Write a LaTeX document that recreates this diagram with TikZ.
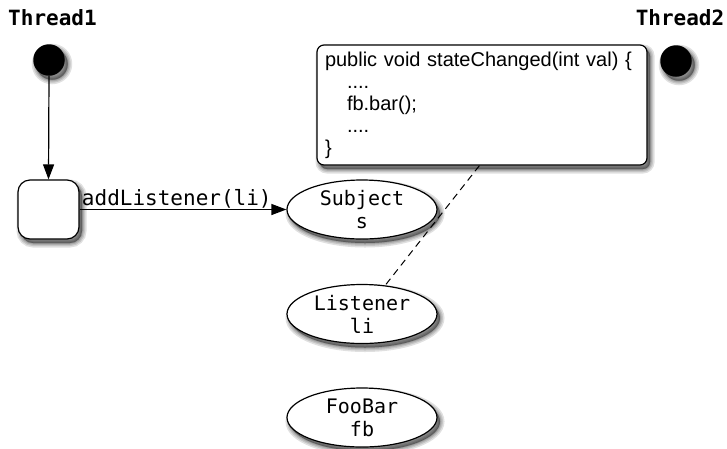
\documentclass[tikz,border=0pt]{standalone}
\usepackage{fontspec}
\setmainfont{Liberation Sans}
\newfontfamily\monofont{DejaVu Sans Mono}
\usetikzlibrary{arrows.meta,shapes.geometric,shadows,backgrounds,calc}

\tikzset{
  % soft drop shadow built from stacked translucent copies
  shadowlayer/.style={general shadow={shadow xshift=3pt, shadow yshift=-4pt,
      fill=black, draw=black, line width=#1, opacity=0.12}},
  softshadow/.style={shadowlayer=9pt, shadowlayer=6pt, shadowlayer=3.5pt,
      shadowlayer=1.5pt},
  startdot/.style={circle, fill=black, minimum size=31.5pt, inner sep=0pt, softshadow},
  threadname/.style={font=\monofont\bfseries\fontsize{21}{24}\selectfont, inner sep=0pt},
  statebox/.style={draw, line width=1.2pt, rounded corners=12pt, fill=white,
      minimum width=61pt, minimum height=59pt, softshadow},
  objnode/.style={ellipse, draw, line width=1.2pt, fill=white, inner sep=0pt,
      minimum width=150pt, minimum height=59pt, align=center,
      font=\monofont\fontsize{20}{23}\selectfont, softshadow},
  notebox/.style={draw, line width=1.2pt, rounded corners=7pt, fill=white,
      minimum width=330pt, minimum height=120pt, inner xsep=8pt,
      text width=314pt, align=left,
      font=\fontsize{20}{22}\selectfont, softshadow},
  flow/.style={line width=1.2pt, -{Triangle[length=15pt,width=11pt]}},
  notelink/.style={line width=1pt, dash pattern=on 7pt off 5pt}
}

\begin{document}
\begin{tikzpicture}[x=1pt, y=-1pt]
  \useasboundingbox (0,0) rectangle (727,448);

  % thread labels and start points
  \node[threadname] (t1name) at (52.5,17.5) {Thread1};
  \node[threadname] (t2name) at (680,17.5) {Thread2};
  \node[startdot] (start1) at (49,60) {};
  \node[startdot] (start2) at (676,61) {};

  % thread 1 activity
  \node[statebox] (act) at (48.5,209.5) {};

  % objects
  \node[objnode] (subj) at (362,209.5) {Subject\\s};
  \node[objnode] (list) at (362,314) {Listener\\li};
  \node[objnode] (foo) at (362,417.5) {FooBar\\fb};

  % callback code note
  \node[notebox] (code) at (482,105) {public void stateChanged(int val) \{\\
    \hspace*{22pt}....\\
    \hspace*{22pt}fb.bar();\\
    \hspace*{22pt}....\\
    \}};

  % connectors
  \draw[flow] (start1.south) -- (act.north);
  \draw[flow] (act.east) -- node[pos=0.47, anchor=base, yshift=4pt, inner sep=0pt,
      font=\monofont\fontsize{21}{24}\selectfont] (addlbl) {addListener(li)} (subj.west);

  \begin{scope}[on background layer]
    \draw[notelink] ($(code.south west)+(163,0)$) -- (list.51);
  \end{scope}
\end{tikzpicture}
\end{document}
